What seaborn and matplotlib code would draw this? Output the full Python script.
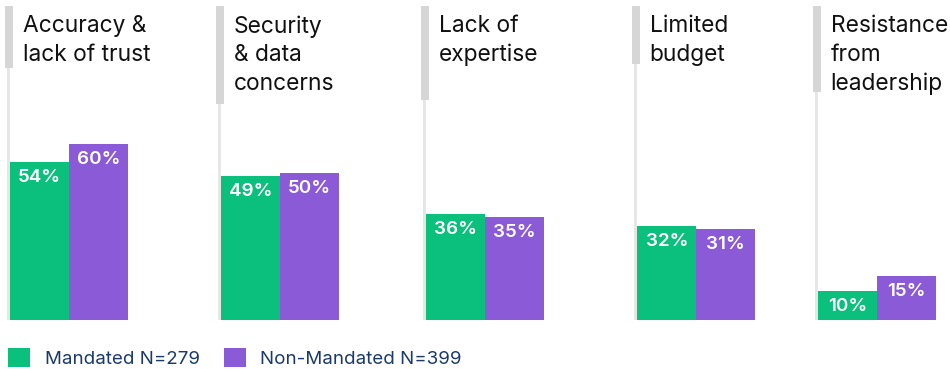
import numpy as np
import pandas as pd
import matplotlib
matplotlib.use("Agg")
import matplotlib.pyplot as plt
from matplotlib.patches import Rectangle, Patch
import seaborn as sns

# ---- data ----
categories = ["Accuracy &\nlack of trust", "Security\n& data\nconcerns", "Lack of\nexpertise",
              "Limited\nbudget", "Resistance\nfrom\nleadership"]
series_names = ["Mandated N=279", "Non-Mandated N=399"]
mandated = [54, 49, 36, 32, 10]
non_mandated = [60, 50, 35, 31, 15]

# ---- style ----
GREEN = "#0BBF7C"
PURPLE = "#8B5AD6"
THICK = "#D6D6D6"
THIN = "#E6E6E6"
TITLE_C = "#111111"
LEGEND_C = "#1B3A6B"

sns.set_theme(style="white")
plt.rcParams["font.family"] = ["Inter", "DejaVu Sans"]

W, H = 950, 369
fig = plt.figure(figsize=(W / 100, H / 100), dpi=100)

# layout (pixels)
group_left = [5, 216, 421, 632, 813]        # left edge of each group's marker
group_width = [211, 205, 211, 181, 137]
thick_bottom = [68, 104, 100, 64, 92]
bar_offset = 5.3       # px from group left to first bar
bar_px = 59.0          # px per bar
base_y, top_y = 320, 6
px_per_pct = 176 / 60.0
ymax = (base_y - top_y) / px_per_pct

for i, cat in enumerate(categories):
    gl, gw = group_left[i], group_width[i]
    ax = fig.add_axes([gl / W, (H - base_y) / H, gw / W, (base_y - top_y) / H])
    df = pd.DataFrame({"series": series_names, "value": [mandated[i], non_mandated[i]]})
    sns.barplot(data=df, x="series", y="value", hue="series",
                palette=[GREEN, PURPLE], width=1.0, dodge=False,
                saturation=1, legend=False, ax=ax, linewidth=0, edgecolor="none")
    x0 = -0.5 - bar_offset / bar_px
    ax.set_xlim(x0, x0 + gw / bar_px)
    ax.set_ylim(0, ymax)
    ax.axis("off")

    for p in list(ax.patches):
        h = p.get_height()
        ax.annotate(f"{h:.0f}%", (p.get_x() + p.get_width() / 2, h),
                    xytext=(0, -5), textcoords="offset points",
                    ha="center", va="top", color="white",
                    fontsize=13.5, fontweight="semibold")

    # decorative marker lines
    ah = base_y - top_y
    tb = (base_y - thick_bottom[i]) / ah
    ax.add_patch(Rectangle((0, tb), 7.7 / gw, 1 - tb, transform=ax.transAxes,
                           color=THICK, clip_on=False, lw=0, zorder=0))
    ax.add_patch(Rectangle((2.4 / gw, 0), 3 / gw, tb, transform=ax.transAxes,
                           color=THIN, clip_on=False, lw=0, zorder=0))
    ax.text(17.7 / gw, 1 - 9 / ah, cat, transform=ax.transAxes,
            ha="left", va="top", fontsize=16.4, color=TITLE_C, linespacing=1.39)

handles = [Patch(facecolor=GREEN, edgecolor="none"), Patch(facecolor=PURPLE, edgecolor="none")]
leg = fig.legend(handles, series_names, loc="center left",
                 bbox_to_anchor=(8 / W, (H - 358) / H), ncol=2, frameon=False,
                 fontsize=13.5, handlelength=1.15, handleheight=1.15,
                 handletextpad=0.8, columnspacing=1.3, borderpad=0, borderaxespad=0)
for t in leg.get_texts():
    t.set_color(LEGEND_C)

fig.savefig("out.png", dpi=100)
